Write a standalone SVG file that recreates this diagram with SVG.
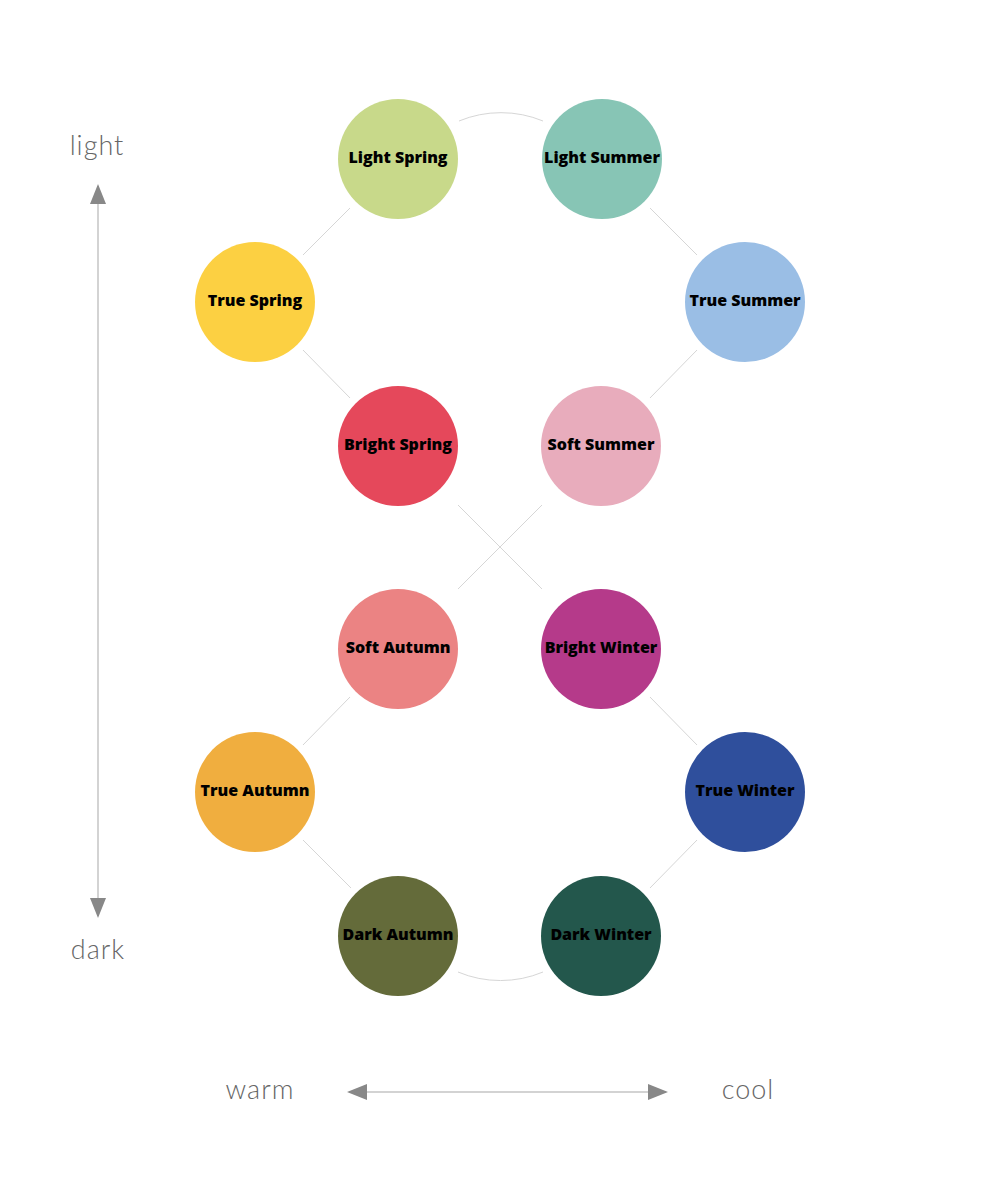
<svg xmlns="http://www.w3.org/2000/svg" width="1000" height="1200" viewBox="0 0 1000 1200">
<style>
.n text{font-family:"Open Sans",Inter,"DejaVu Sans",sans-serif;font-weight:800;font-size:16px;fill:#000;text-anchor:middle;dominant-baseline:central}
.ax{font-family:Lato,"Open Sans","DejaVu Sans",sans-serif;font-weight:300;font-size:27px;fill:#666;text-anchor:middle;letter-spacing:1px}
.c{stroke:#d6d6d6;stroke-width:1;fill:none}
.axis{stroke:#c4c4c4;stroke-width:1.5;fill:none}
</style>
<defs>
<marker id="ah" viewBox="0 0 20 16" refX="18" refY="8" markerWidth="20" markerHeight="16" markerUnits="userSpaceOnUse" orient="auto-start-reverse">
<path d="M0,0 L20,8 L0,16 Z" fill="#888"/>
</marker>
</defs>
<rect width="1000" height="1200" fill="#fff"/>
<g id="connectors">
<path class="c" d="M459,121 A110,110 0 0 1 543,121"/>
<line class="c" x1="350" y1="208" x2="303" y2="255"/>
<line class="c" x1="650" y1="208" x2="697" y2="255"/>
<line class="c" x1="303" y1="350" x2="350" y2="398"/>
<line class="c" x1="697" y1="350" x2="650" y2="398"/>
<line class="c" x1="458" y1="505" x2="542" y2="589"/>
<line class="c" x1="542" y1="505" x2="458" y2="589"/>
<line class="c" x1="350" y1="697" x2="303" y2="745"/>
<line class="c" x1="650" y1="697" x2="697" y2="745"/>
<line class="c" x1="303" y1="840" x2="351" y2="888"/>
<line class="c" x1="697" y1="840" x2="650" y2="888"/>
<path class="c" d="M458,972 A110,110 0 0 0 543,972"/>
</g>
<g id="axes">
<line class="axis" x1="98" y1="186" x2="98" y2="916" marker-start="url(#ah)" marker-end="url(#ah)"/>
<line class="axis" x1="349" y1="1092" x2="666" y2="1092" marker-start="url(#ah)" marker-end="url(#ah)"/>
<text class="ax" x="97" y="155">light</text>
<text class="ax" x="98" y="959">dark</text>
<text class="ax" x="260" y="1099">warm</text>
<text class="ax" x="748" y="1099">cool</text>
</g>
<g id="light-spring" class="n"><circle cx="398" cy="159" r="60" fill="#c8d98a"/><text x="398" y="157">Light Spring</text></g>
<g id="light-summer" class="n"><circle cx="602" cy="159" r="60" fill="#87c5b5"/><text x="602" y="157">Light Summer</text></g>
<g id="true-spring" class="n"><circle cx="255" cy="302" r="60" fill="#fcd042"/><text x="255" y="300">True Spring</text></g>
<g id="true-summer" class="n"><circle cx="745" cy="302" r="60" fill="#9abee5"/><text x="745" y="300">True Summer</text></g>
<g id="bright-spring" class="n"><circle cx="398" cy="446" r="60" fill="#e5485b"/><text x="398" y="444">Bright Spring</text></g>
<g id="soft-summer" class="n"><circle cx="601" cy="446" r="60" fill="#e8acbc"/><text x="601" y="444">Soft Summer</text></g>
<g id="soft-autumn" class="n"><circle cx="398" cy="649" r="60" fill="#eb8383"/><text x="398" y="647">Soft Autumn</text></g>
<g id="bright-winter" class="n"><circle cx="601" cy="649" r="60" fill="#b53a8a"/><text x="601" y="647">Bright Winter</text></g>
<g id="true-autumn" class="n"><circle cx="255" cy="792" r="60" fill="#f0ae3f"/><text x="255" y="790">True Autumn</text></g>
<g id="true-winter" class="n"><circle cx="745" cy="792" r="60" fill="#2f4f9c"/><text x="745" y="790">True Winter</text></g>
<g id="dark-autumn" class="n"><circle cx="398" cy="936" r="60" fill="#646b3a"/><text x="398" y="934">Dark Autumn</text></g>
<g id="dark-winter" class="n"><circle cx="601" cy="936" r="60" fill="#23574c"/><text x="601" y="934">Dark Winter</text></g>
</svg>
